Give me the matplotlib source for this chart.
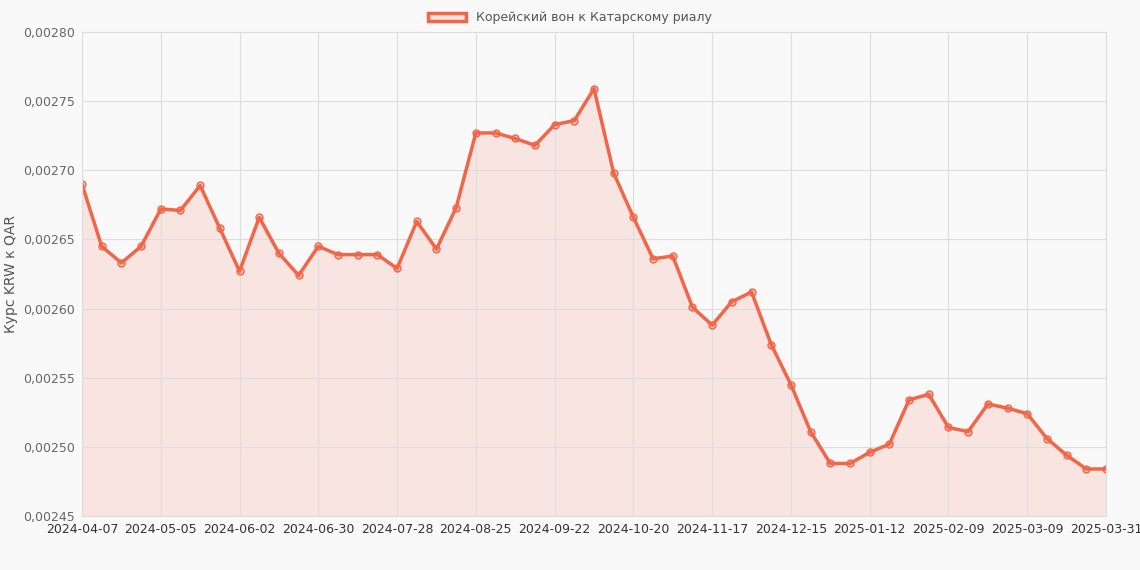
import matplotlib.pyplot as plt
import matplotlib.patches as mpatches
from matplotlib.ticker import FuncFormatter
import pandas as pd

dates = list(pd.date_range("2024-04-07", "2025-03-30", freq="7D").strftime("%Y-%m-%d")) + ["2025-03-31"]
rates = [0.002690, 0.002645, 0.002633, 0.002645, 0.002672, 0.002671, 0.002689, 0.002658,
         0.002627, 0.002666, 0.002640, 0.002624, 0.002645, 0.002639, 0.002639, 0.002639,
         0.002629, 0.002663, 0.002643, 0.002673, 0.002727, 0.002727, 0.002723, 0.002718,
         0.002733, 0.002736, 0.002759, 0.002698, 0.002666, 0.002636, 0.002638, 0.002601,
         0.002588, 0.002605, 0.002612, 0.002574, 0.002545, 0.002511, 0.002488, 0.002488,
         0.002496, 0.002502, 0.002534, 0.002538, 0.002514, 0.002511, 0.002531, 0.002528,
         0.002524, 0.002506, 0.002494, 0.002484, 0.002484]

col = "#f26548"
fig = plt.figure(figsize=(11.4, 5.7), dpi=100, facecolor="#f9f9f9")
ax = fig.add_axes([82/1140, 1-516/570, 1024/1140, 484/570], facecolor="#f9f9f9")
x = list(range(len(rates)))
ax.fill_between(x, rates, 0.00245, color=col, alpha=0.13, linewidth=0)
ax.plot(x, rates, color=col, lw=2.5, marker="o", ms=5, mfc=(0.95, 0.4, 0.28, 0.3), mec=col, mew=1)
ax.set_xlim(0, len(rates)-1)
ax.set_ylim(0.00245, 0.00280)
ax.set_yticks([0.00245 + i*0.00005 for i in range(8)])
ax.yaxis.set_major_formatter(FuncFormatter(lambda v, p: f"{v:.5f}".replace(".", ",")))
ax.set_xticks(x[::4])
ax.set_xticklabels(dates[::4][:-1] + [dates[-1]])
ax.grid(color="#dddddd", lw=0.8)
for s in ax.spines.values():
    s.set_color("#dddddd")
ax.tick_params(colors="#666666", labelsize=9, length=0, pad=5)
for lbl in ax.get_xticklabels():
    lbl.set_color("#333333")
ax.set_ylabel("Курс KRW к QAR", color="#555555", fontsize=10)
h = mpatches.Patch(facecolor=(0.95, 0.4, 0.28, 0.15), edgecolor=col, lw=2.5, label="Корейский вон к Катарскому риалу")
fig.legend(handles=[h], loc="upper center", bbox_to_anchor=(0.5, 1.0), frameon=False,
           fontsize=9, labelcolor="#555555", handlelength=3.0)
fig.savefig("out.png", facecolor=fig.get_facecolor())
